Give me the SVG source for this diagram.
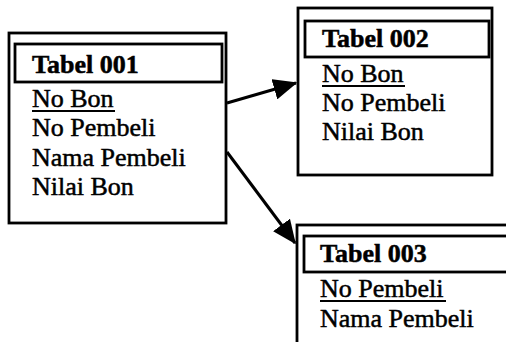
<svg xmlns="http://www.w3.org/2000/svg" width="506" height="342" viewBox="0 0 506 342">
<style>
.box{fill:none;stroke:#000;stroke-width:2.8}
.hdr{fill:none;stroke:#000;stroke-width:2.8}
.t{font-family:"Liberation Serif","Times New Roman",serif;font-size:26px;fill:#000;stroke:#000;stroke-width:0.5}
.b{font-weight:bold}
.u{stroke:#000;stroke-width:2}
.conn{stroke:#000;stroke-width:3;fill:none}
</style>
<defs>
<marker id="ah" markerWidth="8" markerHeight="7" refX="7.5" refY="3.5" orient="auto" markerUnits="strokeWidth">
<path d="M0,0 L8,3.5 L0,7 Z" fill="#000"/>
</marker>
</defs>
<rect width="506" height="342" fill="#fff"/>
<g id="tabel001">
<rect class="box" x="9" y="33" width="217" height="190"/>
<rect class="hdr" x="15" y="44" width="207" height="38"/>
<text class="t b" x="32" y="73">Tabel 001</text>
<text class="t" x="32" y="107">No Bon</text>
<line class="u" x1="32" y1="111" x2="115" y2="111"/>
<text class="t" x="32" y="136">No Pembeli</text>
<text class="t" x="32" y="166">Nama Pembeli</text>
<text class="t" x="32" y="195">Nilai Bon</text>
</g>
<g id="tabel002">
<rect class="box" x="298" y="8" width="194" height="167"/>
<rect class="hdr" x="305" y="21" width="184" height="36"/>
<text class="t b" x="322" y="47">Tabel 002</text>
<text class="t" x="322" y="82">No Bon</text>
<line class="u" x1="322" y1="86" x2="405" y2="86"/>
<text class="t" x="322" y="111">No Pembeli</text>
<text class="t" x="322" y="140">Nilai Bon</text>
</g>
<g id="tabel003">
<rect class="box" x="297" y="225" width="215" height="125"/>
<rect class="hdr" x="304" y="236" width="208" height="36"/>
<text class="t b" x="320" y="262">Tabel 003</text>
<text class="t" x="320" y="297">No Pembeli</text>
<line class="u" x1="320" y1="301" x2="446" y2="301"/>
<text class="t" x="320" y="327">Nama Pembeli</text>
</g>
<g id="connectors">
<line class="conn" x1="227" y1="103" x2="296" y2="83" marker-end="url(#ah)"/>
<line class="conn" x1="227" y1="152" x2="295" y2="243" marker-end="url(#ah)"/>
</g>
</svg>
